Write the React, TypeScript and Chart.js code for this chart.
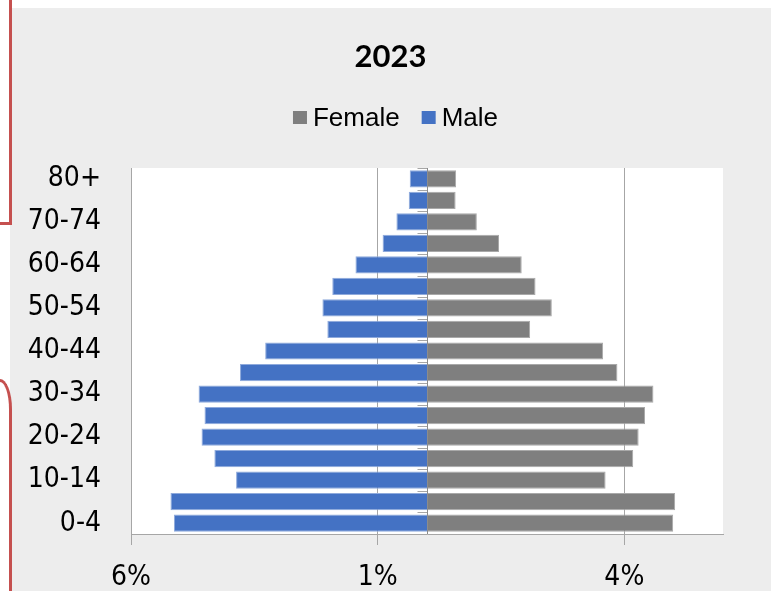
import React, { useEffect, useRef } from "react";
import { Chart, registerables } from "chart.js";

Chart.register(...registerables);

const categories = ["0-4", "5-9", "10-14", "15-19", "20-24", "25-29", "30-34", "35-39", "40-44", "45-49", "50-54", "55-59", "60-64", "65-69", "70-74", "75-79", "80+"];
const femaleValues = [4.99, 5.03, 3.62, 4.18, 4.29, 4.42, 4.59, 3.86, 3.57, 2.09, 2.53, 2.2, 1.92, 1.46, 1.01, 0.58, 0.59];
const maleValues = [-5.13, -5.2, -3.87, -4.31, -4.57, -4.51, -4.63, -3.79, -3.28, -2.02, -2.12, -1.92, -1.45, -0.9, -0.62, -0.37, -0.35];
const xTickValues = [-6, -1, 4];
const chartTitle = "2023";
const seriesNames = ["Female", "Male"];

const FEMALE_COLOR = "#7f7f7f";
const MALE_COLOR = "#4472c4";
const AXIS_FONT = "'DejaVu Sans Condensed', 'DejaVu Sans', sans-serif";

export default function App() {
  const ref = useRef<HTMLCanvasElement>(null);

  useEffect(() => {
    document.body.style.margin = "0";
    const canvas = ref.current!;

    const plotBg = {
      id: "plotBg",
      beforeDraw(chart: any) {
        const { ctx, chartArea: a } = chart;
        ctx.save();
        ctx.fillStyle = "#ffffff";
        ctx.fillRect(a.left, a.top, a.right - a.left, a.bottom - a.top);
        ctx.restore();
      },
    };

    const zeroAxis = {
      id: "zeroAxis",
      afterDatasetsDraw(chart: any) {
        const { ctx, chartArea: a, scales } = chart;
        const x0 = Math.round(scales.x.getPixelForValue(0)) + 0.5;
        ctx.save();
        ctx.strokeStyle = "#a6a6a6";
        ctx.lineWidth = 1;
        ctx.beginPath();
        for (let i = 0; i <= categories.length; i++) {
          const y = Math.round(scales.y.getPixelForValue(i - 0.5)) + 0.5;
          ctx.moveTo(x0 - 10, y);
          ctx.lineTo(x0, y);
        }
        ctx.stroke();
        ctx.strokeStyle = "#8c8c8c";
        ctx.beginPath();
        ctx.moveTo(x0, a.top);
        ctx.lineTo(x0, a.bottom);
        ctx.stroke();
        ctx.restore();
      },
    };

    const customLegend = {
      id: "customLegend",
      afterDraw(chart: any) {
        const { ctx } = chart;
        const ds = chart.data.datasets;
        const font = "26px 'Liberation Sans', Arial, sans-serif";
        ctx.save();
        ctx.font = font;
        const box = 14;
        const gapText = 6;
        const gapItem = 22;
        const widths = ds.map((d: any) => ctx.measureText(d.label).width);
        const total = widths.reduce((s: number, w: number) => s + box + gapText + w, 0) + gapItem * (ds.length - 1);
        let x = chart.width / 2 - total / 2 + 5;
        const cy = 109.5;
        ds.forEach((d: any, i: number) => {
          ctx.fillStyle = d.backgroundColor;
          ctx.fillRect(x, cy - 6.5, box, 13);
          x += box + gapText;
          ctx.fillStyle = "#000000";
          ctx.textBaseline = "middle";
          ctx.textAlign = "left";
          ctx.fillText(d.label, x, cy + 1);
          x += widths[i] + gapItem;
        });
        ctx.restore();
      },
    };

    const chart = new Chart(canvas, {
      type: "bar",
      data: {
        labels: categories,
        datasets: [
          {
            label: seriesNames[0],
            data: femaleValues,
            backgroundColor: FEMALE_COLOR,
            borderColor: "#a9a9a9",
            borderWidth: 1,
          },
          {
            label: seriesNames[1],
            data: maleValues,
            backgroundColor: MALE_COLOR,
            borderColor: "#8faadc",
            borderWidth: 1,
          },
        ],
      },
      options: {
        indexAxis: "y",
        responsive: false,
        animation: false,
        layout: { padding: 0 },
        datasets: { bar: { categoryPercentage: 1, barPercentage: 0.8 } },
        plugins: {
          legend: { display: false },
          tooltip: { enabled: false },
          title: {
            display: true,
            text: chartTitle,
            color: "#000000",
            font: { family: "Lato, 'Open Sans', sans-serif", weight: "bold", size: 31, lineHeight: 1.2 },
            padding: { top: 30, bottom: 92.8 },
          },
        },
        scales: {
          x: {
            stacked: true,
            min: -6,
            max: 6,
            afterBuildTicks: (scale: any) => {
              scale.ticks = xTickValues.map((value) => ({ value }));
            },
            afterFit: (scale: any) => {
              scale.height = 57;
            },
            grid: { color: "#a6a6a6", lineWidth: 1, drawTicks: true, tickLength: 11 },
            border: { display: true, color: "#a6a6a6", width: 1 },
            ticks: {
              color: "#000000",
              font: { family: AXIS_FONT, size: 28 },
              padding: 16,
              maxRotation: 0,
              callback: (v: any) => Math.abs(Number(v)) + "%",
            },
          },
          y: {
            stacked: true,
            reverse: true,
            afterFit: (scale: any) => {
              scale.width = 121;
            },
            grid: { display: false, drawTicks: false },
            border: { display: false },
            ticks: {
              autoSkip: false,
              color: "#000000",
              font: { family: AXIS_FONT, size: 28 },
              padding: 30,
              callback: (_v: any, i: number) => (i % 2 === 0 ? categories[i] : ""),
            },
          },
          spacer: {
            type: "linear",
            axis: "y",
            position: "right",
            display: true,
            afterFit: (scale: any) => {
              scale.width = 48;
            },
            grid: { display: false, drawTicks: false },
            border: { display: false },
            ticks: { display: false },
          },
        },
      },
      plugins: [plotBg, zeroAxis, customLegend],
    });
    return () => chart.destroy();
  }, []);

  const red = "#c5504f";
  return (
    <div style={{ position: "relative", width: 771, height: 591, overflow: "hidden", background: "#ffffff" }}>
      <div style={{ position: "absolute", left: 10, top: 8, width: 761, height: 583, background: "#ededed" }}>
        <canvas ref={ref} width={761} height={583} style={{ display: "block" }} />
      </div>
      <div
        style={{
          position: "absolute",
          left: 0,
          top: 0,
          width: 9,
          height: 222,
          borderRight: `3px solid ${red}`,
          borderBottom: `3px solid ${red}`,
        }}
      />
      <div
        style={{
          position: "absolute",
          left: 0,
          top: 379,
          width: 9,
          height: 400,
          borderRight: `3px solid ${red}`,
          borderTop: `3px solid ${red}`,
          borderTopRightRadius: "12px 30px",
        }}
      />
    </div>
  );
}
